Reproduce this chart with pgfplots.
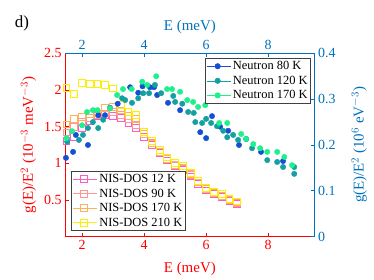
\documentclass[border=0pt]{standalone}
\usepackage{pgfplots}
\pgfplotsset{compat=1.18}
\usepackage{fontspec}
\setmainfont{Liberation Serif}
\definecolor{axred}{RGB}{255,0,0}
\definecolor{axblue}{RGB}{0,114,189}
\definecolor{c12}{RGB}{255,90,200}
\definecolor{c90}{RGB}{255,150,150}
\definecolor{c170}{RGB}{255,178,90}
\definecolor{c210}{RGB}{250,240,0}
\definecolor{n80}{RGB}{20,80,210}
\definecolor{n120}{RGB}{20,160,160}
\definecolor{n170}{RGB}{30,240,140}
\pgfplotsset{mylegimg/.style={legend image code/.code={\path (0bp,0bp) -- (24bp,0bp); \draw[##1] plot coordinates {(11bp,0bp)};}}}
\begin{document}
\begin{tikzpicture}[x=1bp,y=1bp]
\useasboundingbox (0,0) rectangle (374,280);
\begin{axis}[
  at={(65bp,43.3bp)}, anchor=south west,
  scale only axis, width=249.7bp, height=183.4bp,
  xmin=1.45, xmax=9.5, ymin=0, ymax=2.5,
  axis x line*=bottom, axis y line*=left,
  axis line style={axred, line width=0.8pt, -},
  xtick={2,4,6,8}, ytick={0.5,1,1.5,2,2.5},
  tick style={axred, line width=0.8pt},
  major tick length=4bp,
  /pgf/number format/assume math mode=true,
  tick label style={font=\fontsize{14}{16}\selectfont, text=axred},
  label style={font=\fontsize{15}{17}\selectfont, text=axred},
  xlabel={E (meV)},
  ylabel={g(E)/E$^2$ (10$^{-3}$ meV$^{-3}$)},
  xlabel style={yshift=-6bp},
  ylabel style={yshift=1bp},
  legend cell align=left,
  mylegimg,
  legend style={at={(0.024,0.031)}, anchor=south west, draw=black!75, line width=0.6pt,
    font=\fontsize{12.5}{14.5}\selectfont, row sep=0.8pt, inner sep=1pt},
  every axis plot/.append style={only marks, mark=square, mark size=3.4bp, line width=1bp},
]
\addplot[c12] coordinates {(1.5,1.30)(1.75,1.36)(2.0,1.48)(2.25,1.58)(2.5,1.64)(2.75,1.66)(3.0,1.65)(3.25,1.62)(3.5,1.55)(3.75,1.48)(4.0,1.36)(4.25,1.25)(4.5,1.14)(4.75,1.04)(5.0,0.96)(5.25,0.91)(5.5,0.82)(5.75,0.72)(6.0,0.63)(6.25,0.58)(6.5,0.54)(6.75,0.49)(7.0,0.45)};
\addlegendentry{NIS-DOS 12 K}
\addplot[c90] coordinates {(1.5,1.42)(1.75,1.50)(2.0,1.57)(2.25,1.62)(2.5,1.66)(2.75,1.68)(3.0,1.70)(3.25,1.66)(3.5,1.60)(3.75,1.52)(4.0,1.40)(4.25,1.28)(4.5,1.16)(4.75,1.06)(5.0,0.97)(5.25,0.93)(5.5,0.84)(5.75,0.74)(6.0,0.65)(6.25,0.60)(6.5,0.55)(6.75,0.50)(7.0,0.46)};
\addlegendentry{NIS-DOS 90 K}
\addplot[c170] coordinates {(1.5,1.53)(1.75,1.60)(2.0,1.63)(2.25,1.67)(2.5,1.68)(2.75,1.75)(3.0,1.77)(3.25,1.72)(3.5,1.65)(3.75,1.60)(4.0,1.40)(4.25,1.27)(4.5,1.16)(4.75,1.06)(5.0,0.98)(5.25,0.94)(5.5,0.85)(5.75,0.74)(6.0,0.65)(6.25,0.60)(6.5,0.56)(6.75,0.50)(7.0,0.47)};
\addlegendentry{NIS-DOS 170 K}
\addplot[c210] coordinates {(1.5,2.03)(1.75,1.95)(2.0,2.10)(2.25,2.08)(2.5,2.08)(2.75,2.07)(3.0,2.02)(3.25,1.80)(3.5,1.70)(3.75,1.66)(4.0,1.43)(4.25,1.30)(4.5,1.18)(4.75,1.08)(5.0,1.00)(5.25,0.96)(5.5,0.87)(5.75,0.76)(6.0,0.66)(6.25,0.61)(6.5,0.58)(6.75,0.51)(7.0,0.48)};
\addlegendentry{NIS-DOS 210 K}
\end{axis}
\begin{axis}[
  at={(65bp,43.3bp)}, anchor=south west,
  scale only axis, width=249.7bp, height=183.4bp,
  xmin=1.45, xmax=9.5, ymin=0, ymax=0.4,
  axis x line*=top, axis y line*=right,
  axis line style={axblue, line width=0.8pt, -},
  xtick={2,4,6,8}, ytick={0,0.1,0.2,0.3,0.4},
  tick style={axblue, line width=0.8pt},
  major tick length=4bp,
  /pgf/number format/assume math mode=true,
  tick label style={font=\fontsize{14}{16}\selectfont, text=axblue},
  label style={font=\fontsize{15}{17}\selectfont, text=axblue},
  xlabel={E (meV)},
  ylabel={g(E)/E$^2$ (10$^{6}$ eV$^{-3}$)},
  xlabel style={yshift=-0.5bp},
  ylabel style={yshift=-9bp},
  legend cell align=left,
  mylegimg,
  legend style={at={(0.985,0.974)}, anchor=north east, draw=black!75, line width=0.6pt,
    font=\fontsize{12.5}{14.5}\selectfont, row sep=0.8pt, inner sep=1pt},
  every axis plot/.append style={only marks, mark=*, mark size=2.7bp},
]
\addplot[n80, mark options={draw=n80, fill=n80}] coordinates {(1.48,0.172)(1.71,0.185)(1.80,0.222)(2.19,0.200)(2.52,0.265)(2.74,0.265)(2.90,0.281)(3.15,0.290)(3.55,0.326)(3.81,0.314)(3.95,0.328)(4.19,0.326)(4.32,0.326)(4.42,0.309)(4.77,0.292)(5.16,0.276)(5.81,0.228)(6.00,0.215)(6.19,0.263)(6.45,0.240)(6.71,0.231)(7.06,0.200)(7.29,0.213)(7.77,0.185)(8.48,0.165)};
\addlegendentry{Neutron 80 K}
\addplot[n120, mark options={draw=n120, fill=n120}] coordinates {(1.52,0.207)(1.90,0.211)(2.03,0.222)(2.19,0.237)(2.35,0.250)(2.52,0.237)(2.68,0.255)(3.29,0.302)(3.39,0.298)(3.61,0.292)(3.81,0.302)(3.97,0.313)(4.16,0.313)(4.35,0.331)(4.55,0.313)(4.94,0.307)(5.00,0.294)(5.23,0.290)(5.42,0.272)(5.60,0.270)(5.65,0.250)(5.87,0.248)(6.00,0.257)(6.16,0.248)(6.35,0.241)(6.55,0.231)(6.68,0.217)(6.87,0.222)(7.03,0.211)(7.48,0.193)(7.97,0.167)(8.29,0.163)(8.48,0.152)(8.84,0.152)(8.84,0.137)};
\addlegendentry{Neutron 120 K}
\addplot[n170, mark options={draw=n170, fill=n170}] coordinates {(1.50,0.215)(1.68,0.230)(2.00,0.243)(2.16,0.272)(2.35,0.276)(2.50,0.276)(2.90,0.280)(3.13,0.309)(3.32,0.322)(3.60,0.322)(3.94,0.338)(4.10,0.331)(4.39,0.350)(4.74,0.322)(4.90,0.322)(5.16,0.316)(5.39,0.298)(5.58,0.294)(5.74,0.283)(5.97,0.287)(6.42,0.248)(6.68,0.248)(7.13,0.224)(7.29,0.213)(7.52,0.202)(7.74,0.193)(7.97,0.185)(8.29,0.185)(8.52,0.174)(8.77,0.156)};
\addlegendentry{Neutron 170 K}
\end{axis}
\node[font=\fontsize{17}{19}\selectfont] at (22,257) {d)};
\end{tikzpicture}
\end{document}
